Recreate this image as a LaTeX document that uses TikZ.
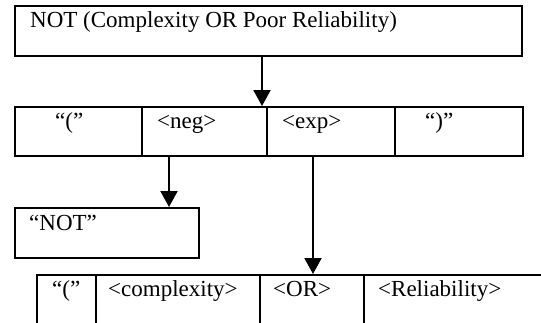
\documentclass[tikz,border=0pt]{standalone}
\usepackage{fontspec}
\setmainfont{Liberation Serif}
\usetikzlibrary{arrows.meta}
\tikzset{
  box/.style={draw, line width=2bp, inner sep=0pt, anchor=north west},
  txt/.style={anchor=base west, inner sep=0pt, font=\fontsize{23bp}{27bp}\selectfont},
  arr/.style={line width=2bp, -{Triangle[width=17bp,length=16bp]}}
}
\begin{document}
\begin{tikzpicture}[x=1bp,y=-1bp]
\clip (0,0) rectangle (541,322);
\fill[white] (0,0) rectangle (541,322);
% top box
\node[box, minimum width=507bp, minimum height=50bp] (top) at (14,5) {};
\node[txt] (ttop) at (30,27) {NOT (Complexity OR Poor Reliability)};
% middle row
\node[box, minimum width=127bp, minimum height=49bp] (c1) at (14,106) {};
\node[box, minimum width=125bp, minimum height=49bp] (c2) at (141,106) {};
\node[box, minimum width=128bp, minimum height=49bp] (c3) at (266,106) {};
\node[box, minimum width=128bp, minimum height=49bp] (c4) at (394,106) {};
\node[txt] (t1) at (55,128) {“(”};
\node[txt] (t2) at (157,128) {<neg>};
\node[txt] (t3) at (282,128) {<exp>};
\node[txt] (t4) at (425,128) {“)”};
% NOT box
\node[box, minimum width=184bp, minimum height=50bp] (nb) at (14,207) {};
\node[txt] (tnb) at (29,230) {“NOT”};
% bottom row (cut off at the bottom)
\node[box, minimum width=59bp, minimum height=80bp] (d1) at (36,274) {};
\node[box, minimum width=164bp, minimum height=80bp] (d2) at (95,274) {};
\node[box, minimum width=104bp, minimum height=80bp] (d3) at (259,274) {};
\node[box, minimum width=220bp, minimum height=80bp] (d4) at (363,274) {};
\node[txt] (u1) at (52,296) {“(”};
\node[txt] (u2) at (108,296) {<complexity>};
\node[txt] (u3) at (273,296) {<OR>};
\node[txt] (u4) at (378,296) {<Reliability>};
% arrows
\coordinate (xa) at (262,0);
\coordinate (xb) at (169,0);
\coordinate (xc) at (313,0);
\draw[arr] (top.south -| xa) -- (c2.north -| xa);
\draw[arr] (c2.south -| xb) -- (nb.north -| xb);
\draw[arr] (c3.south -| xc) -- (d3.north -| xc);
\end{tikzpicture}
\end{document}
